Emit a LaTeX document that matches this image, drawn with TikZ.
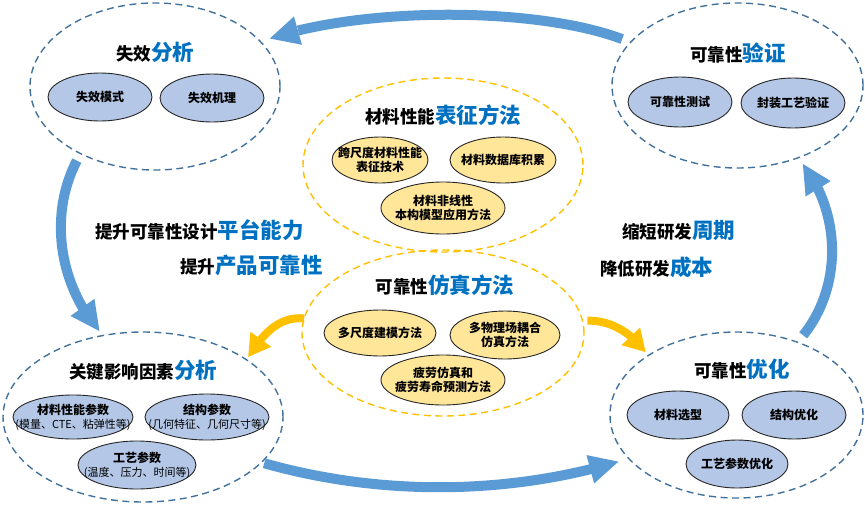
\documentclass[tikz,border=0pt]{standalone}
\usepackage{fontspec}
\newfontfamily\cjk{Noto Sans CJK SC}
\usetikzlibrary{shapes.geometric,arrows.meta,bending}
\definecolor{hblue}{HTML}{0070C0}
\definecolor{arrblue}{HTML}{5B9BD5}
\definecolor{dblue}{HTML}{41719C}
\definecolor{gold}{HTML}{FFC000}
\definecolor{sblue}{HTML}{B4C7E7}
\definecolor{syel}{HTML}{FFE699}
\newcommand\hlx[1]{{\color{hblue}\fontsize{21.5}{24}\selectfont #1}}
\newcommand\parx[1]{{\mdseries\fontsize{11}{13}\selectfont #1}}
\begin{document}
\begin{tikzpicture}[x=1pt,y=-1pt,
  bigell/.style={ellipse, draw=dblue, line width=1.4pt, dash pattern=on 7pt off 4.5pt, inner sep=0pt, outer sep=0pt},
  yell/.style={bigell, draw=gold},
  sell/.style={ellipse, draw=black!85, line width=0.9pt, fill=sblue, inner sep=0pt, outer sep=0pt},
  yfill/.style={sell, fill=syel},
  stxt/.style={font=\cjk\bfseries\fontsize{12}{13.8}\selectfont, align=center, inner sep=0pt},
  ttl/.style={font=\cjk\bfseries\fontsize{17.5}{20}\selectfont, inner sep=0pt},
  barrow/.style={draw=arrblue, line width=10pt, -{Triangle[length=30pt 0 0, width=27pt 0 0]}},
  oarrow/.style={draw=gold, line width=8pt, -{Triangle[length=22pt 0 0, width=24pt 0 0]}},
]
\useasboundingbox (0,0) rectangle (865,504);

% big dashed ellipses
\node[bigell, minimum width=250pt, minimum height=167pt] (TL) at (155,86.5) {};
\node[bigell, minimum width=251pt, minimum height=165pt] (TR) at (737.5,85.5) {};
\node[bigell, minimum width=280pt, minimum height=170pt] (BL) at (143,417) {};
\node[bigell, minimum width=253pt, minimum height=166pt] (BR) at (736.5,415) {};
\node[yell, minimum width=280pt, minimum height=174pt] (YT) at (443,165) {};
\node[yell, minimum width=282pt, minimum height=166pt] (YB) at (443,333) {};

% big blue arrows
\draw[barrow, shorten <=9pt, shorten >=9pt] (TR.158) .. controls (535,6) and (357,6) .. (TL.23);
\draw[barrow, shorten <=8pt, shorten >=5pt] (TL.222) .. controls (48,216) and (58,286) .. (BL.116);
\draw[barrow, shorten <=3pt, shorten >=10pt] (BL.339) .. controls (380,496) and (510,496) .. (BR.202);
\draw[barrow, shorten <=9pt, shorten >=7pt] (BR.50) .. controls (843,286) and (843,212) .. (TR.310);

% orange arrows
\draw[oarrow, shorten >=3pt] (YB.174) .. controls (278,316) and (262,335) .. (BL.29);
\draw[oarrow, shorten <=5pt, shorten >=4pt] (YB.5) .. controls (615,320) and (633,335) .. (BR.146);

% titles
\node[ttl] (tTL) at (155,52) {失效\hlx{分析}};
\node[ttl] (tTR) at (738,53) {可靠性\hlx{验证}};
\node[ttl] (tYT) at (443,115) {材料性能\hlx{表征方法}};
\node[ttl] (tYB) at (445,285) {可靠性\hlx{仿真方法}};
\node[ttl] (tBL) at (143,370) {关键影响因素\hlx{分析}};
\node[ttl] (tBR) at (742,369) {可靠性\hlx{优化}};

% side texts
\node[ttl, anchor=west] (s1) at (95,230) {提升可靠性设计\hlx{平台能力}};
\node[ttl, anchor=west] (s2) at (180,265) {提升\hlx{产品可靠性}};
\node[ttl, anchor=west] (s3) at (622,230) {缩短研发\hlx{周期}};
\node[ttl, anchor=west] (s4) at (600,267) {降低研发\hlx{成本}};

% top-left
\node[sell, minimum width=104pt, minimum height=48pt] (a1) at (100,97) {};
\node[stxt] at (a1) {失效模式};
\node[sell, minimum width=104pt, minimum height=48pt] (a2) at (212,98) {};
\node[stxt] at (a2) {失效机理};

% top-right
\node[sell, minimum width=104pt, minimum height=50pt] (b1) at (680,102) {};
\node[stxt] at (b1) {可靠性测试};
\node[sell, minimum width=104pt, minimum height=50pt] (b2) at (793,103) {};
\node[stxt] at (b2) {封装工艺验证};

% yellow top
\node[yfill, minimum width=96pt, minimum height=46pt] (c1) at (380,160) {};
\node[stxt] at (c1) {跨尺度材料性能\\表征技术};
\node[yfill, minimum width=106pt, minimum height=46pt] (c2) at (503,160) {};
\node[stxt] at (c2) {材料数据库积累};
\node[yfill, minimum width=124pt, minimum height=52pt] (c3) at (443,208) {};
\node[stxt] at (c3) {材料非线性\\本构模型应用方法};

% yellow bottom
\node[yfill, minimum width=112pt, minimum height=46pt] (d1) at (380,333) {};
\node[stxt] at (d1) {多尺度建模方法};
\node[yfill, minimum width=110pt, minimum height=48pt] (d2) at (505,335) {};
\node[stxt] at (d2) {多物理场耦合\\仿真方法};
\node[yfill, minimum width=124pt, minimum height=50pt] (d3) at (443,380) {};
\node[stxt] at (d3) {疲劳仿真和\\疲劳寿命预测方法};

% bottom-left
\node[sell, minimum width=120pt, minimum height=44pt] (e1) at (73,417) {};
\node[stxt] at (e1) {材料性能参数\\\parx{(模量、CTE、粘弹性等)}};
\node[sell, minimum width=124pt, minimum height=46pt] (e2) at (207,417) {};
\node[stxt] at (e2) {结构参数\\\parx{(几何特征、几何尺寸等)}};
\node[sell, minimum width=118pt, minimum height=48pt] (e3) at (137,465) {};
\node[stxt] at (e3) {工艺参数\\\parx{(温度、压力、时间等)}};

% bottom-right
\node[sell, minimum width=102pt, minimum height=48pt] (f1) at (678,415) {};
\node[stxt] at (f1) {材料选型};
\node[sell, minimum width=104pt, minimum height=48pt] (f2) at (794,415) {};
\node[stxt] at (f2) {结构优化};
\node[sell, minimum width=102pt, minimum height=48pt] (f3) at (737,464) {};
\node[stxt] at (f3) {工艺参数优化};
\end{tikzpicture}
\end{document}
